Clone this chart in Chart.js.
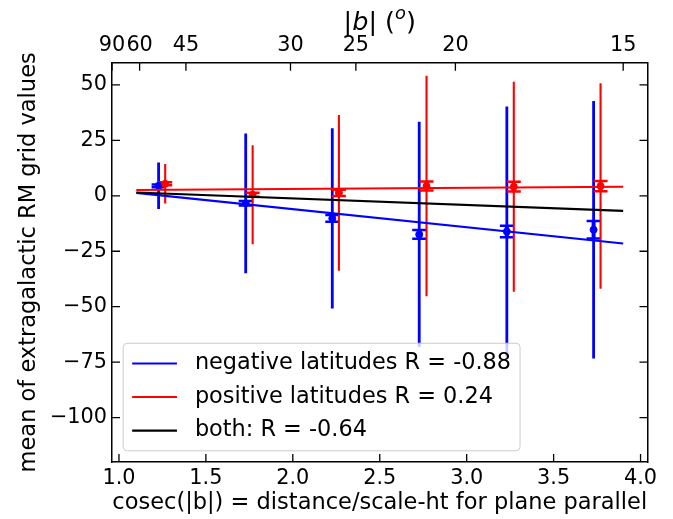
<!DOCTYPE html>
<html>
<head>
<meta charset="utf-8">
<script src="https://cdn.jsdelivr.net/npm/chart.js@4.4.0/dist/chart.umd.min.js"></script>
<style>
  body { margin: 0; background: #fff; }
  canvas { display: block; }
</style>
</head>
<body>
<canvas id="rmChart" width="673" height="519"></canvas>
<script>
// latitude bins: cosec(|b|) position, mean RM, std (long bars), std error (capped bars)
const negX = [1.228, 1.729, 2.227, 2.727, 3.231, 3.730];
const negMean = [4.5, -3.4, -10.2, -17.4, -16.1, -15.3];
const negStd = [10.5, 31.5, 40.6, 50.8, 56.4, 58.0];
const negSem = [0.6, 1.0, 1.5, 2.0, 2.6, 3.9];

const posX = [1.266, 1.769, 2.265, 2.769, 3.271, 3.770];
const posMean = [5.4, 0.5, 1.3, 4.4, 4.1, 4.4];
const posStd = [8.9, 22.3, 35.1, 49.7, 47.3, 46.3];
const posSem = [0.7, 0.9, 1.4, 2.0, 2.2, 2.3];

// fitted lines, end points
const fitX = [1.1, 3.9];
const negFit = [1.3, -21.5];
const posFit = [2.6, 4.1];
const bothFit = [1.5, -6.8];

const legendLabels = ['negative latitudes R = -0.88', 'positive latitudes R = 0.24', 'both: R = -0.64'];

const xTicks = [1.0, 1.5, 2.0, 2.5, 3.0, 3.5, 4.0];
const yTicks = [-100, -75, -50, -25, 0, 25, 50];
const topDeg = [90, 60, 45, 30, 25, 20, 15];

const FONT = 'DejaVu Sans';
const pts = (xs, ys) => xs.map((x, i) => ({x: x, y: ys[i]}));
const cosec = d => 1 / Math.sin(d * Math.PI / 180);

// long std bars + short capped std-error bars
const errorBars = {
  id: 'errorBars',
  beforeDatasetsDraw(chart) {
    const {ctx, chartArea: a, scales: {x, y}} = chart;
    ctx.save();
    ctx.beginPath();
    ctx.rect(a.left, a.top, a.width, a.height);
    ctx.clip();
    [[negX, negMean, negStd, negSem, 'blue', 2.8], [posX, posMean, posStd, posSem, 'red', 2.1]].forEach(([xs, m, sd, se, col, lw]) => {
      ctx.strokeStyle = col;
      xs.forEach((xv, i) => {
        const px = x.getPixelForValue(xv);
        ctx.lineWidth = lw;
        ctx.beginPath();
        ctx.moveTo(px, y.getPixelForValue(m[i] + sd[i]));
        ctx.lineTo(px, y.getPixelForValue(m[i] - sd[i]));
        ctx.stroke();
        const t = y.getPixelForValue(m[i] + se[i]);
        const b = y.getPixelForValue(m[i] - se[i]);
        ctx.lineWidth = 4;
        ctx.beginPath();
        ctx.moveTo(px, t);
        ctx.lineTo(px, b);
        ctx.stroke();
        ctx.lineWidth = 2.5;
        ctx.beginPath();
        ctx.moveTo(px - 7, t); ctx.lineTo(px + 7, t);
        ctx.moveTo(px - 7, b); ctx.lineTo(px + 7, b);
        ctx.stroke();
      });
    });
    ctx.restore();
  }
};

// matplotlib style ticks pointing inwards
const inTicks = {
  id: 'inTicks',
  afterDatasetsDraw(chart) {
    const {ctx, chartArea: a, scales} = chart;
    const len = 8;
    ctx.save();
    ctx.strokeStyle = '#000';
    ctx.lineWidth = 1.3;
    ctx.beginPath();
    scales.x.ticks.forEach(t => {
      const p = scales.x.getPixelForValue(t.value);
      ctx.moveTo(p, a.bottom); ctx.lineTo(p, a.bottom - len);
    });
    scales.x2.ticks.forEach(t => {
      const p = scales.x2.getPixelForValue(t.value);
      ctx.moveTo(p, a.top); ctx.lineTo(p, a.top + len);
    });
    scales.y.ticks.forEach(t => {
      const p = scales.y.getPixelForValue(t.value);
      ctx.moveTo(a.left, p); ctx.lineTo(a.left + len, p);
      ctx.moveTo(a.right, p); ctx.lineTo(a.right - len, p);
    });
    ctx.stroke();
    ctx.restore();
  }
};

// legend box in the lower left corner of the axes
const boxLegend = {
  id: 'boxLegend',
  afterDatasetsDraw(chart) {
    const {ctx, chartArea: a} = chart;
    const items = legendLabels.map(l => chart.data.datasets.find(d => d.label === l));
    const fs = 22.4, pad = 0.4 * fs, handle = 2 * fs, gap = 0.8 * fs, rowGap = 0.5 * fs, axPad = 0.5 * fs;
    ctx.save();
    ctx.font = fs + 'px "' + FONT + '"';
    const tw = Math.max(...items.map(d => ctx.measureText(d.label).width));
    const w = pad * 2 + handle + gap + tw;
    const h = pad * 2 + items.length * fs + (items.length - 1) * rowGap;
    const x0 = a.left + axPad, y0 = a.bottom - axPad - h;
    ctx.beginPath();
    ctx.roundRect(x0, y0, w, h, 4);
    ctx.fillStyle = 'rgba(255,255,255,0.8)';
    ctx.fill();
    ctx.strokeStyle = '#cccccc';
    ctx.lineWidth = 1;
    ctx.stroke();
    ctx.textBaseline = 'middle';
    items.forEach((d, i) => {
      const cy = y0 + pad + fs / 2 + i * (fs + rowGap);
      ctx.strokeStyle = d.borderColor;
      ctx.lineWidth = 2.1;
      ctx.beginPath();
      ctx.moveTo(x0 + pad, cy); ctx.lineTo(x0 + pad + handle, cy);
      ctx.stroke();
      ctx.fillStyle = '#000';
      ctx.fillText(d.label, x0 + pad + handle + gap, cy);
    });
    ctx.restore();
  }
};

// top axis title |b| (o) with italic b and superscript o
const topTitle = {
  id: 'topTitle',
  afterDraw(chart) {
    const {ctx, chartArea: a} = chart;
    const fs = 25.5;
    const parts = [['|', '', fs, 0], ['b', 'italic ', fs, 0], ['|', '', fs, 0], [' (', '', fs, 0],
                   ['o', 'italic ', fs * 0.7, -0.42 * fs], [')', '', fs, 0]];
    ctx.save();
    let total = 0;
    parts.forEach(p => { ctx.font = p[1] + p[2] + 'px "' + FONT + '"'; p.push(ctx.measureText(p[0]).width); total += p[4]; });
    let x = (a.left + a.right) / 2 - total / 2;
    const base = 30;
    ctx.fillStyle = '#000';
    ctx.textBaseline = 'alphabetic';
    parts.forEach(p => {
      ctx.font = p[1] + p[2] + 'px "' + FONT + '"';
      ctx.fillText(p[0], x, base + p[3]);
      x += p[4];
    });
    ctx.restore();
  }
};

const tickFont = {family: FONT, size: 20.8};
const labelFont = {family: FONT, size: 22.5};
const frame = {display: true, color: '#000', width: 1.5};

new Chart(document.getElementById('rmChart'), {
  type: 'scatter',
  data: {
    datasets: [
      {type: 'line', label: legendLabels[2], data: pts(fitX, bothFit), borderColor: 'black', borderWidth: 2.1, pointRadius: 0, fill: false},
      {type: 'line', label: legendLabels[1], data: pts(fitX, posFit), borderColor: 'red', borderWidth: 2.1, pointRadius: 0, fill: false},
      {type: 'line', label: legendLabels[0], data: pts(fitX, negFit), borderColor: 'blue', borderWidth: 2.1, pointRadius: 0, fill: false},
      {label: 'positive', data: pts(posX, posMean), backgroundColor: 'red', borderColor: 'red', pointRadius: 3.5},
      {label: 'negative', data: pts(negX, negMean), backgroundColor: 'blue', borderColor: 'blue', pointRadius: 3.5}
    ]
  },
  options: {
    responsive: false,
    animation: false,
    events: [],
    layout: {padding: 0},
    plugins: {legend: {display: false}, tooltip: {enabled: false}},
    scales: {
      x: {
        type: 'linear', position: 'bottom', min: 0.96, max: 4.04, bounds: 'data',
        afterBuildTicks: s => { s.ticks = xTicks.map(v => ({value: v})); },
        afterFit: s => { s.height = 57; },
        grid: {display: false, drawTicks: false},
        border: frame,
        ticks: {color: '#000', font: tickFont, padding: 4, autoSkip: false, maxRotation: 0, minRotation: 0,
                callback: v => v.toFixed(1)},
        title: {display: true, text: 'cosec(|b|) = distance/scale-ht for plane parallel', color: '#000',
                font: labelFont, padding: {top: 0, bottom: 2}}
      },
      x2: {
        type: 'linear', position: 'top', min: 1.0, max: 4.0, bounds: 'data',
        afterBuildTicks: s => { s.ticks = topDeg.map(d => ({value: cosec(d)})); },
        afterFit: s => { s.height = 62.7; },
        grid: {display: false, drawTicks: false},
        border: frame,
        ticks: {color: '#000', font: tickFont, padding: 4.5, autoSkip: false, maxRotation: 0, minRotation: 0,
                callback: (v, i) => String(topDeg[i])}
      },
      y: {
        type: 'linear', position: 'left', min: -120, max: 60, bounds: 'data',
        afterBuildTicks: s => { s.ticks = yTicks.map(v => ({value: v})); },
        afterFit: s => { s.width = 112; },
        grid: {display: false, drawTicks: false},
        border: frame,
        ticks: {color: '#000', font: tickFont, padding: 5,
                callback: v => v < 0 ? '\u2212' + Math.abs(v) : String(v)},
        title: {display: true, text: 'mean of extragalactic RM grid values', color: '#000',
                font: labelFont, padding: {top: 16, bottom: 0}}
      },
      y2: {
        type: 'linear', position: 'right', min: -120, max: 60, bounds: 'data',
        afterBuildTicks: s => { s.ticks = yTicks.map(v => ({value: v})); },
        afterFit: s => { s.width = 25.5; },
        grid: {display: false, drawTicks: false},
        border: frame,
        ticks: {display: false}
      }
    }
  },
  plugins: [errorBars, inTicks, boxLegend, topTitle]
});
</script>
</body>
</html>
